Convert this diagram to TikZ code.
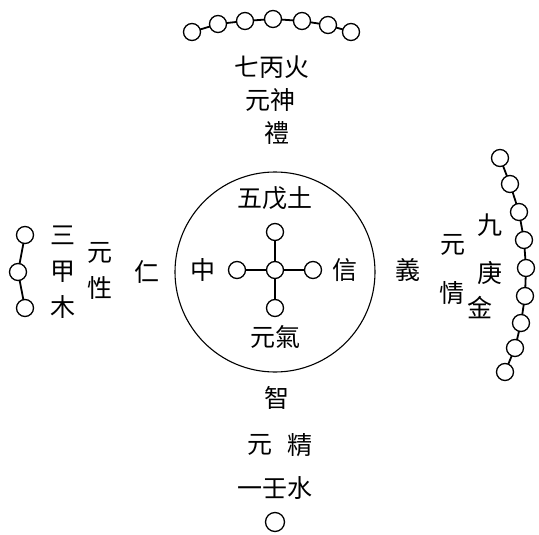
\documentclass[tikz,border=0pt]{standalone}
\usepackage{fontspec}
\newfontfamily\cjk{Noto Sans CJK TC}
\usetikzlibrary{positioning}

\begin{document}
\begin{tikzpicture}[x=1pt,y=-1pt]
\tikzstyle{bead}=[circle,draw=black,line width=1.3pt,
inner sep=0pt,outer sep=0pt,minimum size=17pt]
\tikzstyle{word}=[inner sep=0pt,font=\cjk\fontsize{25}{27}\selectfont]
\tikzstyle{link}=[line width=1.8pt]
\useasboundingbox (0,0) rectangle (539,535);

% fire, top
\node[bead] at (192,32) (f1) {};
\node[bead] at (218,24) (f2) {};
\node[bead] at (245,21) (f3) {};
\node[bead] at (273,19) (f4) {};
\node[bead] at (302,21) (f5) {};
\node[bead] at (328,25) (f6) {};
\node[bead] at (351,32) (f7) {};
\path[link] (f1) edge (f2) ;
\path[link] (f2) edge (f3) ;
\path[link] (f3) edge (f4) ;
\path[link] (f4) edge (f5) ;
\path[link] (f5) edge (f6) ;
\path[link] (f6) edge (f7) ;
\node[word] at (272,67) (fire) {七丙火};
\node[word] at (270,100) (shen) {元神};
\node[word] at (277,133) (li) {禮};

% centre
\node[circle,draw=black,line width=1.1pt,minimum size=200pt] at (275,272) (disc) {};
\node[bead] at (275,270) (c0) {};
\node[bead,above=21pt of c0] (c1) {};
\node[bead,left=21pt of c0] (c2) {};
\node[bead,right=21pt of c0] (c3) {};
\node[bead,below=21pt of c0] (c4) {};
\path[link] (c0) edge (c1) ;
\path[link] (c0) edge (c2) ;
\path[link] (c0) edge (c3) ;
\path[link] (c0) edge (c4) ;
\node[word] at (275,198) (earth) {五戊土};
\node[word] at (203,270) (zhong) {中};
\node[word] at (345,270) (xin) {信};
\node[word] at (275,337) (qi) {元氣};

% wood, left
\node[bead] at (25,235) (w1) {};
\node[bead] at (18,272) (w2) {};
\node[bead] at (25,308) (w3) {};
\path[link] (w1) edge (w2) ;
\path[link] (w2) edge (w3) ;
\node[word] at (63,235) (san) {三};
\node[word] at (63,272) (jia) {甲};
\node[word] at (63,307) (mu) {木};
\node[word] at (100,253) (yuanl) {元};
\node[word] at (100,288) (xing) {性};
\node[word] at (147,272) (ren) {仁};

% metal, right
\node[bead] at (500,158) (m1) {};
\node[bead] at (510,184) (m2) {};
\node[bead] at (519,212) (m3) {};
\node[bead] at (524,240) (m4) {};
\node[bead] at (526,268) (m5) {};
\node[bead] at (525,296) (m6) {};
\node[bead] at (521,323) (m7) {};
\node[bead] at (515,348) (m8) {};
\node[bead] at (505,372) (m9) {};
\path[link] (m1) edge (m2) ;
\path[link] (m2) edge (m3) ;
\path[link] (m3) edge (m4) ;
\path[link] (m4) edge (m5) ;
\path[link] (m5) edge (m6) ;
\path[link] (m6) edge (m7) ;
\path[link] (m7) edge (m8) ;
\path[link] (m8) edge (m9) ;
\node[word] at (490,225) (jiu) {九};
\node[word] at (490,273) (geng) {庚};
\node[word] at (480,308) (jin) {金};
\node[word] at (453,245) (yuanr) {元};
\node[word] at (452,293) (qing) {情};
\node[word] at (408,270) (yi) {義};

% water, bottom
\node[word] at (277,398) (zhi) {智};
\node[word] at (260,445) (yuanb) {元};
\node[word] at (300,445) (jing) {精};
\node[word] at (275,488) (water) {一壬水};
\node[bead,minimum size=19pt] at (275,522) (s1) {};

\end{tikzpicture}
\end{document}
